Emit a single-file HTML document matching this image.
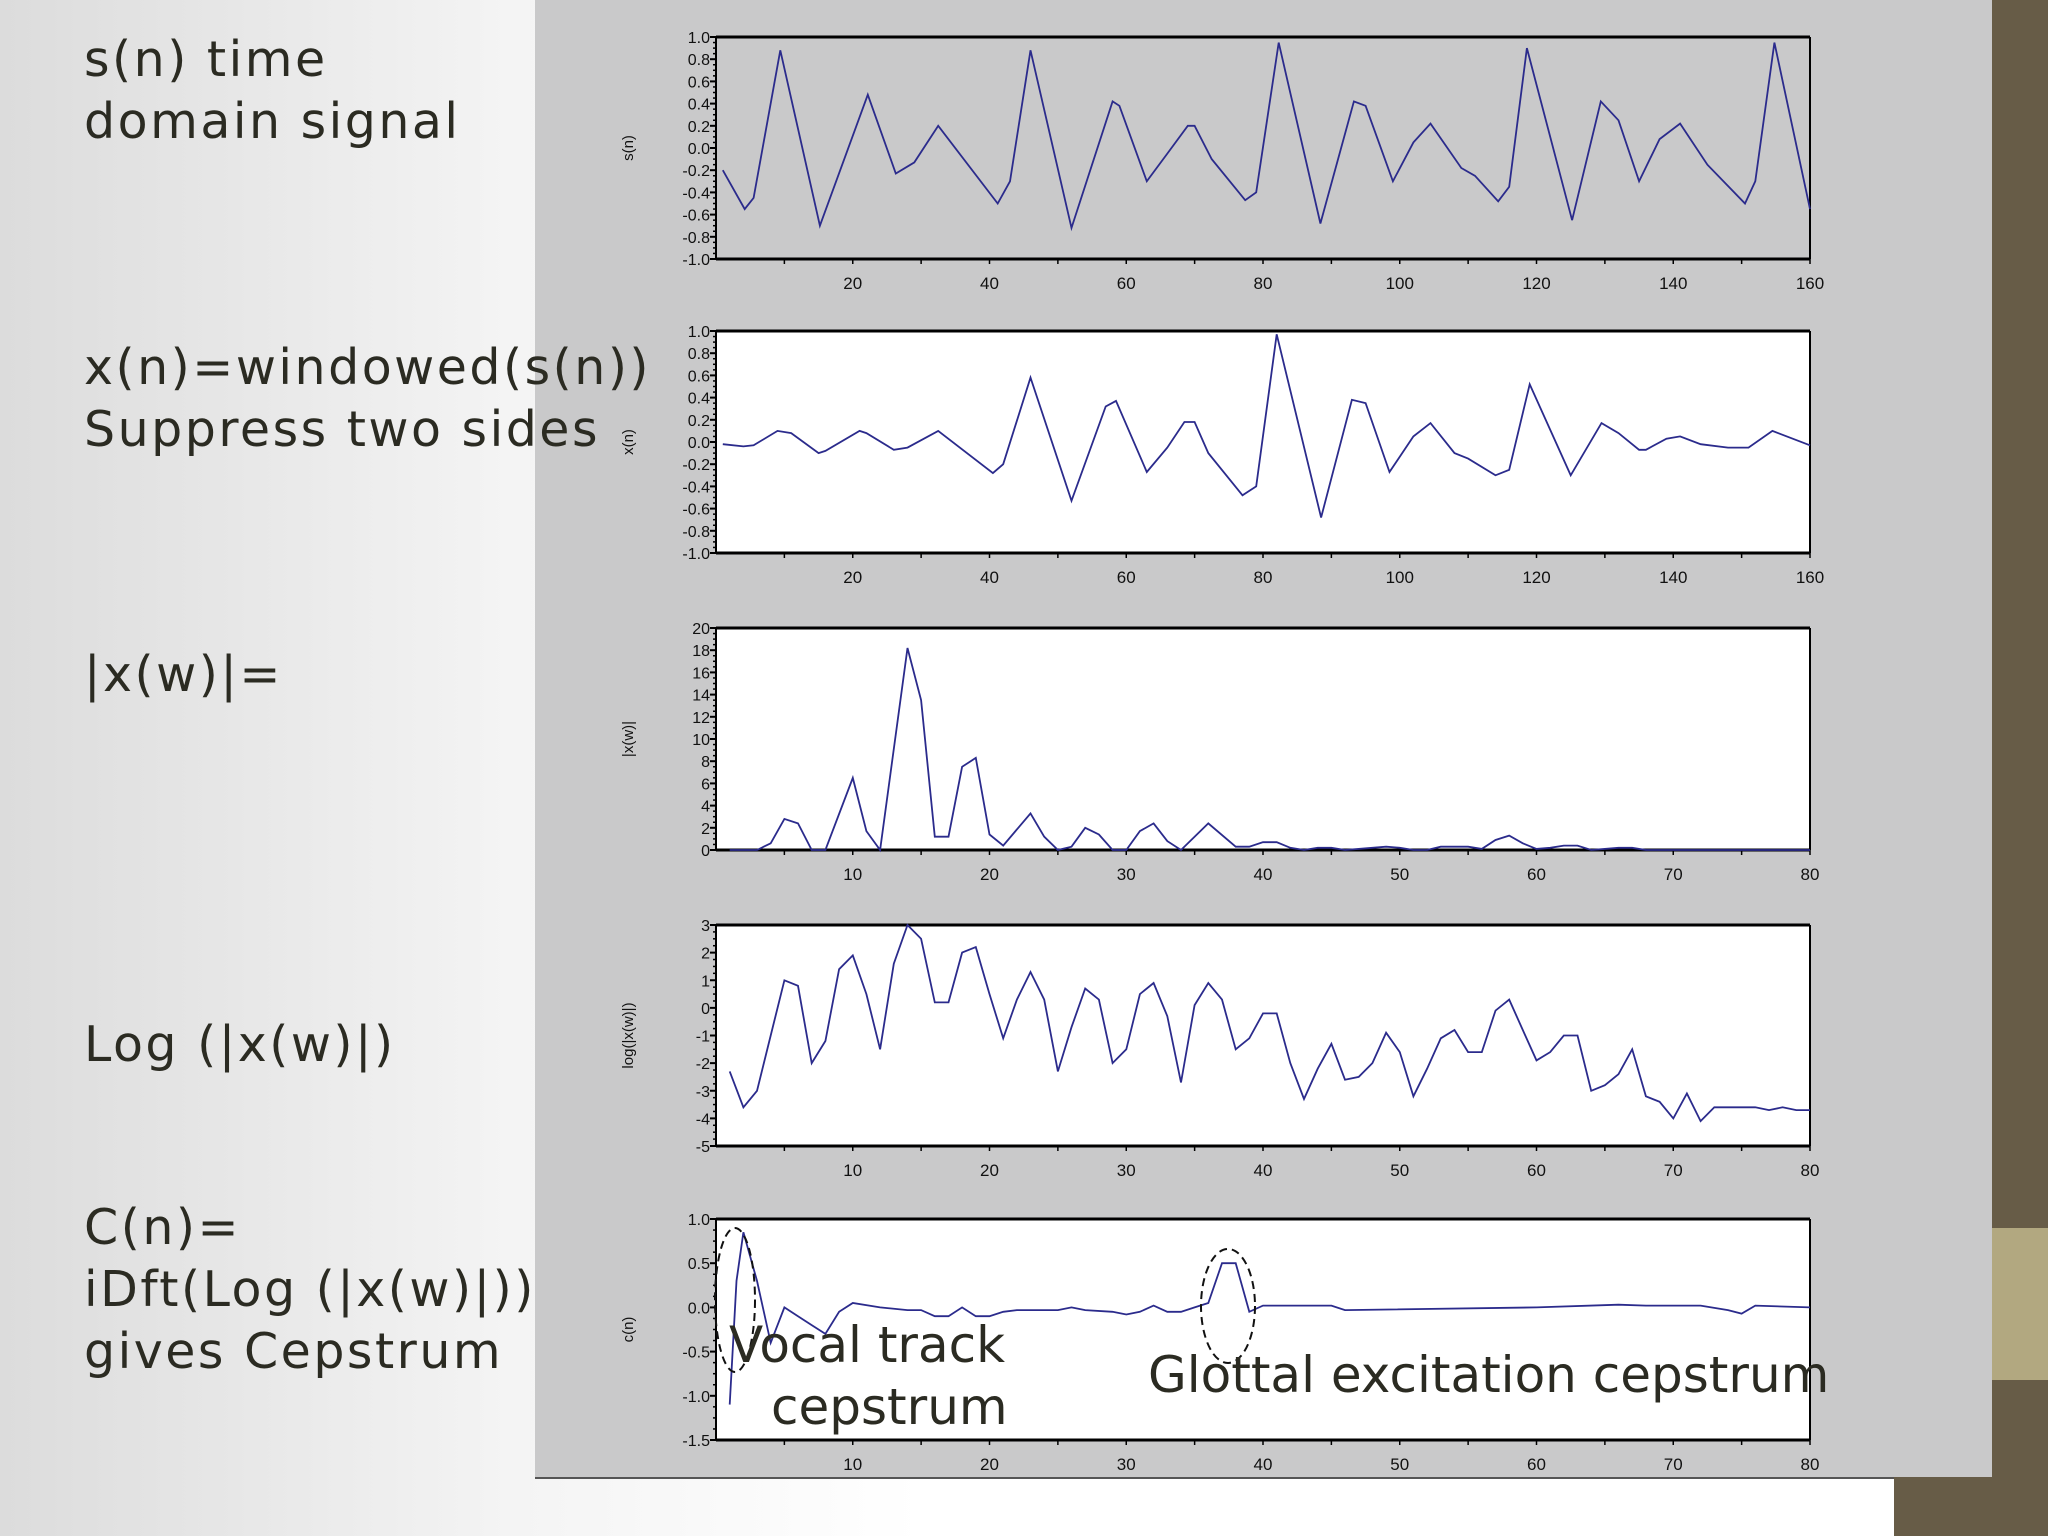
<!DOCTYPE html>
<html><head><meta charset="utf-8">
<style>
html,body{margin:0;padding:0;}
body{width:2048px;height:1536px;position:relative;overflow:hidden;background:linear-gradient(90deg,#dcdcdc 0%,#f4f4f4 25%,#ffffff 45%);font-family:"Liberation Sans",sans-serif;}
#panel{position:absolute;left:535px;top:0;width:1457px;height:1477px;background:#c9c9ca;border-bottom:2px solid #555;}
#band{position:absolute;left:1992px;top:0;width:56px;height:1536px;background:#675c47;}
#band2{position:absolute;left:1894px;top:1477px;width:154px;height:59px;background:#675c47;}
#olive{position:absolute;left:1992px;top:1228px;width:56px;height:152px;background:#b2a880;}
svg{position:absolute;left:0;top:0;}
.lt{position:absolute;left:84px;font-family:"DejaVu Sans",sans-serif;font-size:49px;letter-spacing:2.5px;color:#2b2b22;line-height:62px;white-space:nowrap;}
.ann{position:absolute;font-family:"DejaVu Sans",sans-serif;font-size:50px;color:#2b2b22;white-space:nowrap;line-height:60px;}
</style></head><body>
<div id="panel"></div>
<div id="band"></div>
<div id="band2"></div>
<div id="olive"></div>
<svg id="chart" width="2048" height="1536"></svg>
<div class="lt" style="top:29px">s(n) time<br>domain signal</div>
<div class="lt" style="top:337px">x(n)=windowed(s(n))<br>Suppress two sides</div>
<div class="lt" style="top:644px">|x(w)|=</div>
<div class="lt" style="top:1014px">Log (|x(w)|)</div>
<div class="lt" style="top:1197px">C(n)=<br>iDft(Log (|x(w)|))<br>gives Cepstrum</div>
<div class="ann" style="left:729px;top:1315px">Vocal track</div>
<div class="ann" style="left:771px;top:1377px">cepstrum</div>
<div class="ann" style="left:1148px;top:1345px">Glottal excitation cepstrum</div>
<script>
// s(n)
const snX=[1,4.2,5.5,9.4,15.2,22.2,26.3,29,32.5,41.2,43,46,52,58,59,63,66,69,70,72.5,77.4,79,82.3,88.4,93.3,95,99,102,104.5,109,111,114.4,116,118.6,125.2,129.4,132,135,138,141,145,150.5,152,154.8,160];
const snY=[-0.2,-0.55,-0.45,0.88,-0.7,0.48,-0.23,-0.13,0.2,-0.5,-0.3,0.88,-0.72,0.42,0.38,-0.3,-0.05,0.2,0.2,-0.1,-0.47,-0.4,0.95,-0.68,0.42,0.38,-0.3,0.05,0.22,-0.18,-0.25,-0.48,-0.35,0.9,-0.65,0.42,0.25,-0.3,0.08,0.22,-0.15,-0.5,-0.3,0.95,-0.55];
// x(n)
const xnX=[1,4,5.5,9,11,15,16,21,22,26,28,32.5,40.5,42,46,52,57,58.5,63,66,68.5,70,72,77,79,82,88.5,93,95,98.5,102,104.5,108,110,114,116,119,125,129.5,132,135,136,139,141,144,148,151,154.5,160];
const xnY=[-0.02,-0.04,-0.03,0.1,0.08,-0.1,-0.08,0.1,0.08,-0.07,-0.05,0.1,-0.28,-0.2,0.58,-0.53,0.32,0.37,-0.27,-0.05,0.18,0.18,-0.1,-0.48,-0.4,0.97,-0.68,0.38,0.35,-0.27,0.05,0.17,-0.1,-0.15,-0.3,-0.25,0.52,-0.3,0.17,0.08,-0.07,-0.07,0.03,0.05,-0.02,-0.05,-0.05,0.1,-0.03];
// |x(w)|
const mX=[1,3,4,5,6,7,8,10,11,12,14,15,16,17,18,19,20,21,23,24,25,26,27,28,29,30,31,32,33,34,36,38,39,40,41,42,43,44,45,46,48,49,50,51,52,53,55,56,57,58,59,60,61,62,63,64,66,67,68,80];
const mY=[0,0,0.6,2.8,2.4,0,0,6.5,1.7,0,18.2,13.5,1.2,1.2,7.5,8.3,1.4,0.4,3.3,1.2,0,0.3,2.0,1.4,0,0,1.7,2.4,0.8,0,2.4,0.3,0.3,0.7,0.7,0.2,0,0.2,0.2,0,0.2,0.3,0.2,0,0,0.3,0.3,0.1,0.9,1.3,0.6,0.1,0.2,0.4,0.4,0,0.2,0.2,0,0];
// log|x(w)|
const lX=[1,2,3,4,5,6,7,8,9,10,11,12,13,14,15,16,17,18,19,20,21,22,23,24,25,26,27,28,29,30,31,32,33,34,35,36,37,38,39,40,41,42,43,44,45,46,47,48,49,50,51,52,53,54,55,56,57,58,59,60,61,62,63,64,65,66,67,68,69,70,71,72,73,76,77,78,79,80];
const lY=[-2.3,-3.6,-3.0,-1.0,1.0,0.8,-2.0,-1.2,1.4,1.9,0.5,-1.5,1.6,3.0,2.5,0.2,0.2,2.0,2.2,0.5,-1.1,0.3,1.3,0.3,-2.3,-0.7,0.7,0.3,-2.0,-1.5,0.5,0.9,-0.3,-2.7,0.1,0.9,0.3,-1.5,-1.1,-0.2,-0.2,-2.0,-3.3,-2.2,-1.3,-2.6,-2.5,-2.0,-0.9,-1.6,-3.2,-2.2,-1.1,-0.8,-1.6,-1.6,-0.1,0.3,-0.8,-1.9,-1.6,-1.0,-1.0,-3.0,-2.8,-2.4,-1.5,-3.2,-3.4,-4.0,-3.1,-4.1,-3.6,-3.6,-3.7,-3.6,-3.7,-3.7];
// c(n)
const cX=[1,1.5,2,3,4,5,6,7,8,9,10,12,14,15,16,17,18,19,20,21,22,25,26,27,29,30,31,32,33,34,35,36,37,38,39,40,45,46,60,66,68,70,72,74,75,76,80];
const cY=[-1.1,0.3,0.85,0.3,-0.4,0.0,-0.1,-0.2,-0.3,-0.05,0.05,0.0,-0.03,-0.03,-0.1,-0.1,0.0,-0.1,-0.1,-0.05,-0.03,-0.03,0.0,-0.03,-0.05,-0.08,-0.05,0.02,-0.05,-0.05,0.0,0.05,0.5,0.5,-0.05,0.02,0.02,-0.03,0.0,0.03,0.02,0.02,0.02,-0.03,-0.07,0.02,0.0];
const ticks160=[20,40,60,80,100,120,140,160];
const ticks80=[10,20,30,40,50,60,70,80];
const yT1=[-1.0,-0.8,-0.6,-0.4,-0.2,0.0,0.2,0.4,0.6,0.8,1.0];
const yT3=[0,2,4,6,8,10,12,14,16,18,20];
const yT4=[-5,-4,-3,-2,-1,0,1,2,3];
const yT5=[-1.5,-1.0,-0.5,0.0,0.5,1.0];

const NS='http://www.w3.org/2000/svg';
const svg=document.getElementById('chart');
function mk(tag,attrs,parent){const e=document.createElementNS(NS,tag);for(const k in attrs)e.setAttribute(k,attrs[k]);(parent||svg).appendChild(e);return e;}

function plot(name,box,xmin,xmax,ymin,ymax,xs,ys,xt,yt,ydec,ytitle,bg){
  const g=mk('g',{});
  
  
  const sx=v=>box.l+(v-xmin)/(xmax-xmin)*(box.r-box.l);
  const sy=v=>box.b-(v-ymin)/(ymax-ymin)*(box.b-box.t);
  const bgR=mk('rect',{x:box.l,y:box.t,width:box.r-box.l,height:box.b-box.t,fill:bg},g);
  
  
  const step=yt[1]-yt[0];
  for(let i=0;i<yt.length;i++){
    const v=yt[i],y=sy(v);
    mk('line',{x1:box.l-6,x2:box.l,y1:y,y2:y,stroke:'#000','stroke-width':2},g);
    if(i<yt.length-1){for(let k=1;k<4;k++){const ym=sy(v+step*k/4);mk('line',{x1:box.l-3,x2:box.l,y1:ym,y2:ym,stroke:'#000','stroke-width':1.5},g);}}
    const t=mk('text',{x:box.l-6,y:y+6,'text-anchor':'end','font-size':16,'font-family':'"Liberation Sans",sans-serif',fill:'#111'},g);
    t.textContent=v.toFixed(ydec);
    
    
  }
  const xs_=xt[1]-xt[0];
  for(let v=xmin;v<=xmax;v+=xs_/2){if(v<=xmin)continue;const x=sx(v);mk('line',{x1:x,x2:x,y1:box.b,y2:box.b+5,stroke:'#000','stroke-width':1.5},g);}
  for(const v of xt){
    const x=sx(v);
    const t=mk('text',{x:x,y:box.b+30,'text-anchor':'middle','font-size':17,'font-family':'"Liberation Sans",sans-serif',fill:'#111'},g);
    t.textContent=String(v);
    
    
  }
  mk('line',{x1:box.l,x2:box.r,y1:box.t,y2:box.t,stroke:'#000','stroke-width':3},g);
  mk('line',{x1:box.l,x2:box.r,y1:box.b,y2:box.b,stroke:'#000','stroke-width':3},g);
  mk('line',{x1:box.l,x2:box.l,y1:box.t,y2:box.b,stroke:'#000','stroke-width':2},g);
  mk('line',{x1:box.r,x2:box.r,y1:box.t,y2:box.b,stroke:'#000','stroke-width':2},g);
  const cy=(box.t+box.b)/2;
  const tt=mk('text',{x:633,y:cy,'text-anchor':'middle','font-size':15,'font-family':'"Liberation Sans",sans-serif',fill:'#111',transform:'rotate(-90 633 '+cy+')'},g);
  tt.textContent=ytitle;
  
  
  let d='';
  for(let i=0;i<xs.length;i++)d+=(i?'L':'M')+sx(xs[i]).toFixed(1)+' '+sy(ys[i]).toFixed(1);
  const p=mk('path',{d:d,fill:'none',stroke:'#2b2b8c','stroke-width':1.8},g);
  
  
}
plot('signal-plot',{l:716,r:1810,t:37,b:259},0,160,-1,1,snX,snY,ticks160,yT1,1,'s(n)','#c9c9ca');
plot('windowed-plot',{l:716,r:1810,t:331,b:553},0,160,-1,1,xnX,xnY,ticks160,yT1,1,'x(n)','#ffffff');
plot('magnitude-plot',{l:716,r:1810,t:628,b:850},0,80,0,20,mX,mY,ticks80,yT3,0,'|x(w)|','#ffffff');
plot('log-plot',{l:716,r:1810,t:925,b:1146},0,80,-5,3,lX,lY,ticks80,yT4,0,'log(|x(w)|)','#ffffff');
plot('cepstrum-plot',{l:716,r:1810,t:1219,b:1440},0,80,-1.5,1,cX,cY,ticks80,yT5,1,'c(n)','#ffffff');
const e1=mk('ellipse',{cx:735,cy:1300,rx:20,ry:72,fill:'none',stroke:'#111','stroke-width':2,'stroke-dasharray':'8 5'});


const e2=mk('ellipse',{cx:1228,cy:1306,rx:27,ry:57,fill:'none',stroke:'#111','stroke-width':2,'stroke-dasharray':'8 5'});


</script>
</body></html>
